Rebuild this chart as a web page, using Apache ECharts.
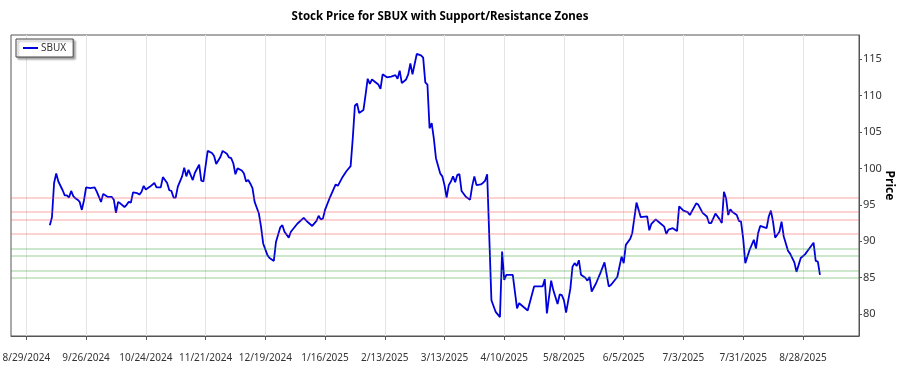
<!DOCTYPE html>
<html>
<head>
<meta charset="utf-8">
<title>SBUX support / resistance</title>
<script src="https://cdn.jsdelivr.net/npm/echarts@6/dist/echarts.min.js"></script>
<style>
    html, body { margin: 0; padding: 0; background: #fff; }
    #chart { width: 900px; height: 375px; }
</style>
</head>
<body>
<div id="chart"></div>
<script>
    // closing prices
    var dates = [
        '2024-09-09', '2024-09-10', '2024-09-11', '2024-09-12', '2024-09-13', '2024-09-15', '2024-09-16', '2024-09-17',
        '2024-09-18', '2024-09-19', '2024-09-20', '2024-09-21', '2024-09-22', '2024-09-23', '2024-09-24', '2024-09-25',
        '2024-09-26', '2024-09-28', '2024-09-30', '2024-10-01', '2024-10-03', '2024-10-04', '2024-10-05', '2024-10-06',
        '2024-10-08', '2024-10-09', '2024-10-10', '2024-10-11', '2024-10-12', '2024-10-14', '2024-10-15', '2024-10-16',
        '2024-10-17', '2024-10-18', '2024-10-20', '2024-10-21', '2024-10-22', '2024-10-23', '2024-10-24', '2024-10-26',
        '2024-10-28', '2024-10-29', '2024-10-31', '2024-11-01', '2024-11-03', '2024-11-04', '2024-11-05', '2024-11-06',
        '2024-11-07', '2024-11-08', '2024-11-10', '2024-11-11', '2024-11-12', '2024-11-13', '2024-11-15', '2024-11-16',
        '2024-11-18', '2024-11-19', '2024-11-20', '2024-11-22', '2024-11-24', '2024-11-25', '2024-11-26', '2024-11-28',
        '2024-11-29', '2024-12-01', '2024-12-02', '2024-12-03', '2024-12-04', '2024-12-05', '2024-12-06', '2024-12-08',
        '2024-12-09', '2024-12-10', '2024-12-11', '2024-12-12', '2024-12-13', '2024-12-14', '2024-12-16', '2024-12-17',
        '2024-12-18', '2024-12-20', '2024-12-21', '2024-12-23', '2024-12-24', '2024-12-26', '2024-12-27', '2024-12-28',
        '2024-12-30', '2024-12-31', '2025-01-03', '2025-01-06', '2025-01-08', '2025-01-10', '2025-01-12', '2025-01-13',
        '2025-01-14', '2025-01-15', '2025-01-16', '2025-01-18', '2025-01-21', '2025-01-22', '2025-01-24', '2025-01-26',
        '2025-01-28', '2025-01-29', '2025-01-30', '2025-01-31', '2025-02-01', '2025-02-03', '2025-02-04', '2025-02-05',
        '2025-02-06', '2025-02-07', '2025-02-10', '2025-02-11', '2025-02-12', '2025-02-14', '2025-02-16', '2025-02-18',
        '2025-02-19', '2025-02-20', '2025-02-21', '2025-02-23', '2025-02-24', '2025-02-25', '2025-02-26', '2025-02-28',
        '2025-03-02', '2025-03-03', '2025-03-04', '2025-03-05', '2025-03-06', '2025-03-07', '2025-03-08', '2025-03-09',
        '2025-03-11', '2025-03-12', '2025-03-13', '2025-03-14', '2025-03-15', '2025-03-16', '2025-03-17', '2025-03-18',
        '2025-03-19', '2025-03-20', '2025-03-21', '2025-03-23', '2025-03-25', '2025-03-26', '2025-03-27', '2025-03-28',
        '2025-03-30', '2025-03-31', '2025-04-01', '2025-04-02', '2025-04-04', '2025-04-06', '2025-04-08', '2025-04-09',
        '2025-04-10', '2025-04-11', '2025-04-14', '2025-04-16', '2025-04-17', '2025-04-21', '2025-04-24', '2025-04-26',
        '2025-04-28', '2025-04-29', '2025-04-30', '2025-05-02', '2025-05-03', '2025-05-05', '2025-05-06', '2025-05-07',
        '2025-05-08', '2025-05-09', '2025-05-11', '2025-05-12', '2025-05-13', '2025-05-14', '2025-05-15', '2025-05-16',
        '2025-05-18', '2025-05-19', '2025-05-20', '2025-05-21', '2025-05-23', '2025-05-25', '2025-05-27', '2025-05-29',
        '2025-05-30', '2025-06-02', '2025-06-04', '2025-06-05', '2025-06-06', '2025-06-08', '2025-06-09', '2025-06-11',
        '2025-06-13', '2025-06-16', '2025-06-17', '2025-06-18', '2025-06-20', '2025-06-22', '2025-06-24', '2025-06-25',
        '2025-06-26', '2025-06-28', '2025-06-30', '2025-07-01', '2025-07-03', '2025-07-05', '2025-07-06', '2025-07-09',
        '2025-07-10', '2025-07-12', '2025-07-14', '2025-07-15', '2025-07-16', '2025-07-18', '2025-07-20', '2025-07-21',
        '2025-07-22', '2025-07-23', '2025-07-24', '2025-07-25', '2025-07-26', '2025-07-28', '2025-07-29', '2025-07-30',
        '2025-07-31', '2025-08-01', '2025-08-03', '2025-08-05', '2025-08-06', '2025-08-07', '2025-08-08', '2025-08-10',
        '2025-08-11', '2025-08-12', '2025-08-13', '2025-08-14', '2025-08-15', '2025-08-17', '2025-08-18', '2025-08-19',
        '2025-08-21', '2025-08-22', '2025-08-24', '2025-08-25', '2025-08-27', '2025-08-29', '2025-08-31', '2025-09-02',
        '2025-09-03', '2025-09-04', '2025-09-05'
    ];
    var prices = [
        92.2, 93.3, 98.0, 99.3, 98.2, 97.0, 96.3, 96.3,
        96.0, 96.9, 96.2, 95.9, 95.7, 95.4, 94.3, 95.6,
        97.4, 97.3, 97.4, 96.8, 95.4, 96.5, 96.3, 96.1,
        96.1, 95.7, 93.9, 95.4, 95.2, 94.7, 95.0, 95.4,
        95.3, 96.7, 96.6, 96.4, 96.8, 97.6, 97.1, 97.5,
        98.0, 97.4, 97.4, 98.8, 98.0, 97.0, 96.9, 96.0,
        96.0, 97.5, 98.9, 100.1, 98.9, 99.8, 98.4, 99.4,
        100.5, 98.3, 98.2, 102.4, 102.1, 101.7, 100.6, 101.6,
        102.4, 102.0, 101.5, 101.4, 100.7, 99.2, 100.0, 99.7,
        99.3, 98.2, 98.4, 97.9, 97.3, 95.4, 93.8, 92.0,
        89.7, 88.1, 87.7, 87.3, 89.9, 91.9, 92.2, 91.3,
        90.5, 91.3, 92.4, 93.2, 92.6, 92.1, 92.8, 93.5,
        93.0, 93.1, 94.3, 95.8, 97.8, 97.6, 98.7, 99.6,
        100.3, 104.1, 108.6, 108.9, 107.6, 108.0, 110.1, 112.3,
        111.6, 112.2, 111.5, 110.9, 112.9, 112.5, 112.6, 112.8,
        112.3, 113.4, 111.7, 112.2, 112.9, 114.4, 112.9, 115.7,
        115.5, 115.2, 111.8, 111.5, 105.5, 106.2, 104.1, 101.4,
        99.3, 98.9, 97.7, 96.0, 97.7, 98.2, 98.9, 98.1,
        99.1, 99.2, 96.9, 96.1, 95.7, 97.6, 98.9, 97.7,
        97.8, 98.0, 98.3, 99.2, 81.9, 80.3, 79.6, 88.6,
        84.7, 85.4, 85.4, 80.8, 81.5, 80.5, 83.8, 83.8,
        83.8, 84.8, 80.1, 84.6, 83.3, 81.4, 82.7, 82.6,
        81.9, 80.2, 83.5, 86.5, 87.0, 86.6, 87.4, 85.4,
        85.0, 84.6, 85.1, 83.1, 84.2, 85.6, 87.1, 83.8,
        84.0, 85.1, 87.9, 87.0, 89.5, 90.3, 91.1, 95.3,
        93.3, 93.4, 91.5, 92.4, 93.0, 92.5, 92.0, 91.0,
        91.6, 91.8, 91.4, 94.8, 94.2, 94.0, 93.6, 95.2,
        95.0, 93.9, 93.4, 92.5, 92.5, 93.8, 93.0, 92.5,
        96.8, 95.9, 93.6, 94.4, 94.0, 93.6, 92.8, 92.7,
        90.4, 87.0, 88.8, 90.2, 89.0, 91.1, 92.1, 91.9,
        91.8, 93.4, 94.2, 92.7, 90.5, 91.3, 92.7, 90.7,
        88.7, 88.3, 87.1, 85.8, 87.7, 88.2, 89.0, 89.8,
        87.3, 87.2, 85.4
    ];
    var resistance = [91, 93, 94, 96];
    var support = [85, 86, 88, 89];
    var tickDates = [
        '2024-08-29', '2024-09-26', '2024-10-24', '2024-11-21', '2024-12-19', '2025-01-16', '2025-02-13',
        '2025-03-13', '2025-04-10', '2025-05-08', '2025-06-05', '2025-07-03', '2025-07-31', '2025-08-28'
    ];
    var priceTicks = [80, 85, 90, 95, 100, 105, 110, 115];

    // x is counted in days from 2024-08-01
    var base = Date.parse('2024-08-01');
    function toDay(s) {
        return Math.round((Date.parse(s) - base) / 86400000);
    }
    function dayLabel(v) {
        var d = new Date(base + Math.round(v) * 86400000);
        return (d.getUTCMonth() + 1) + '/' + d.getUTCDate() + '/' + d.getUTCFullYear();
    }

    var points = dates.map(function (s, i) {
        return [toDay(s), prices[i]];
    });
    var tickDays = tickDates.map(toDay);

    var zoneLines = [];
    resistance.forEach(function (v) {
        zoneLines.push({ yAxis: v, lineStyle: { color: 'rgba(240, 80, 80, 0.35)' } });
    });
    support.forEach(function (v) {
        zoneLines.push({ yAxis: v, lineStyle: { color: 'rgba(60, 160, 60, 0.35)' } });
    });

    var font = 'Noto Sans';
    var chart = echarts.init(document.getElementById('chart'));
    chart.setOption({
        animation: false,
        backgroundColor: '#fff',
        title: {
            text: 'Stock Price for SBUX with Support/Resistance Zones',
            left: 435,
            top: 6,
            textAlign: 'center',
            textStyle: { fontFamily: font, fontSize: 11.5, fontWeight: 'bold', color: '#000' }
        },
        legend: {
            data: ['SBUX'],
            left: 16,
            top: 39,
            padding: [4, 7],
            icon: 'rect',
            itemWidth: 15,
            itemHeight: 2,
            backgroundColor: '#fff',
            borderColor: '#444',
            borderWidth: 1,
            borderRadius: 0,
            shadowColor: 'rgba(0, 0, 0, 0.35)',
            shadowBlur: 2,
            shadowOffsetX: 2,
            shadowOffsetY: 2,
            textStyle: { fontFamily: font, fontSize: 10, color: '#333', padding: [0, 0, 0, -2] }
        },
        grid: {
            left: 11,
            right: 41,
            top: 35,
            bottom: 39,
            outerBoundsMode: 'none',
            show: true,
            borderColor: '#555',
            borderWidth: 1
        },
        xAxis: {
            type: 'value',
            min: 20.8,
            max: 418.3,
            axisLine: { show: true, lineStyle: { color: '#555' } },
            axisTick: { show: true, length: 4, customValues: tickDays, lineStyle: { color: '#555' } },
            axisLabel: {
                customValues: tickDays,
                formatter: dayLabel,
                margin: 17,
                fontFamily: font,
                fontSize: 10,
                color: '#333'
            },
            splitLine: { show: true, lineStyle: { color: '#e4e4e4' } }
        },
        yAxis: {
            type: 'value',
            position: 'right',
            min: 77,
            max: 118.3,
            name: 'Price',
            nameLocation: 'middle',
            nameRotate: -90,
            nameGap: 24,
            nameMoveOverlap: false,
            nameTextStyle: { fontFamily: font, fontSize: 12, fontWeight: 'bold', color: '#000' },
            axisLine: { show: true, lineStyle: { color: '#555' } },
            axisTick: { show: true, length: 3, customValues: priceTicks, lineStyle: { color: '#555' } },
            axisLabel: {
                customValues: priceTicks,
                margin: 4,
                fontFamily: font,
                fontSize: 11,
                color: '#333'
            },
            splitLine: { show: false }
        },
        series: [
            {
                name: 'zones',
                type: 'line',
                data: [],
                z: 1,
                markLine: {
                    silent: true,
                    symbol: 'none',
                    label: { show: false },
                    lineStyle: { type: 'solid', width: 1.5 },
                    data: zoneLines
                }
            },
            {
                name: 'SBUX',
                type: 'line',
                z: 3,
                data: points,
                symbol: 'none',
                lineStyle: { color: '#0000dd', width: 1.8 },
                itemStyle: { color: '#0000dd' }
            }
        ]
    });
</script>
</body>
</html>
